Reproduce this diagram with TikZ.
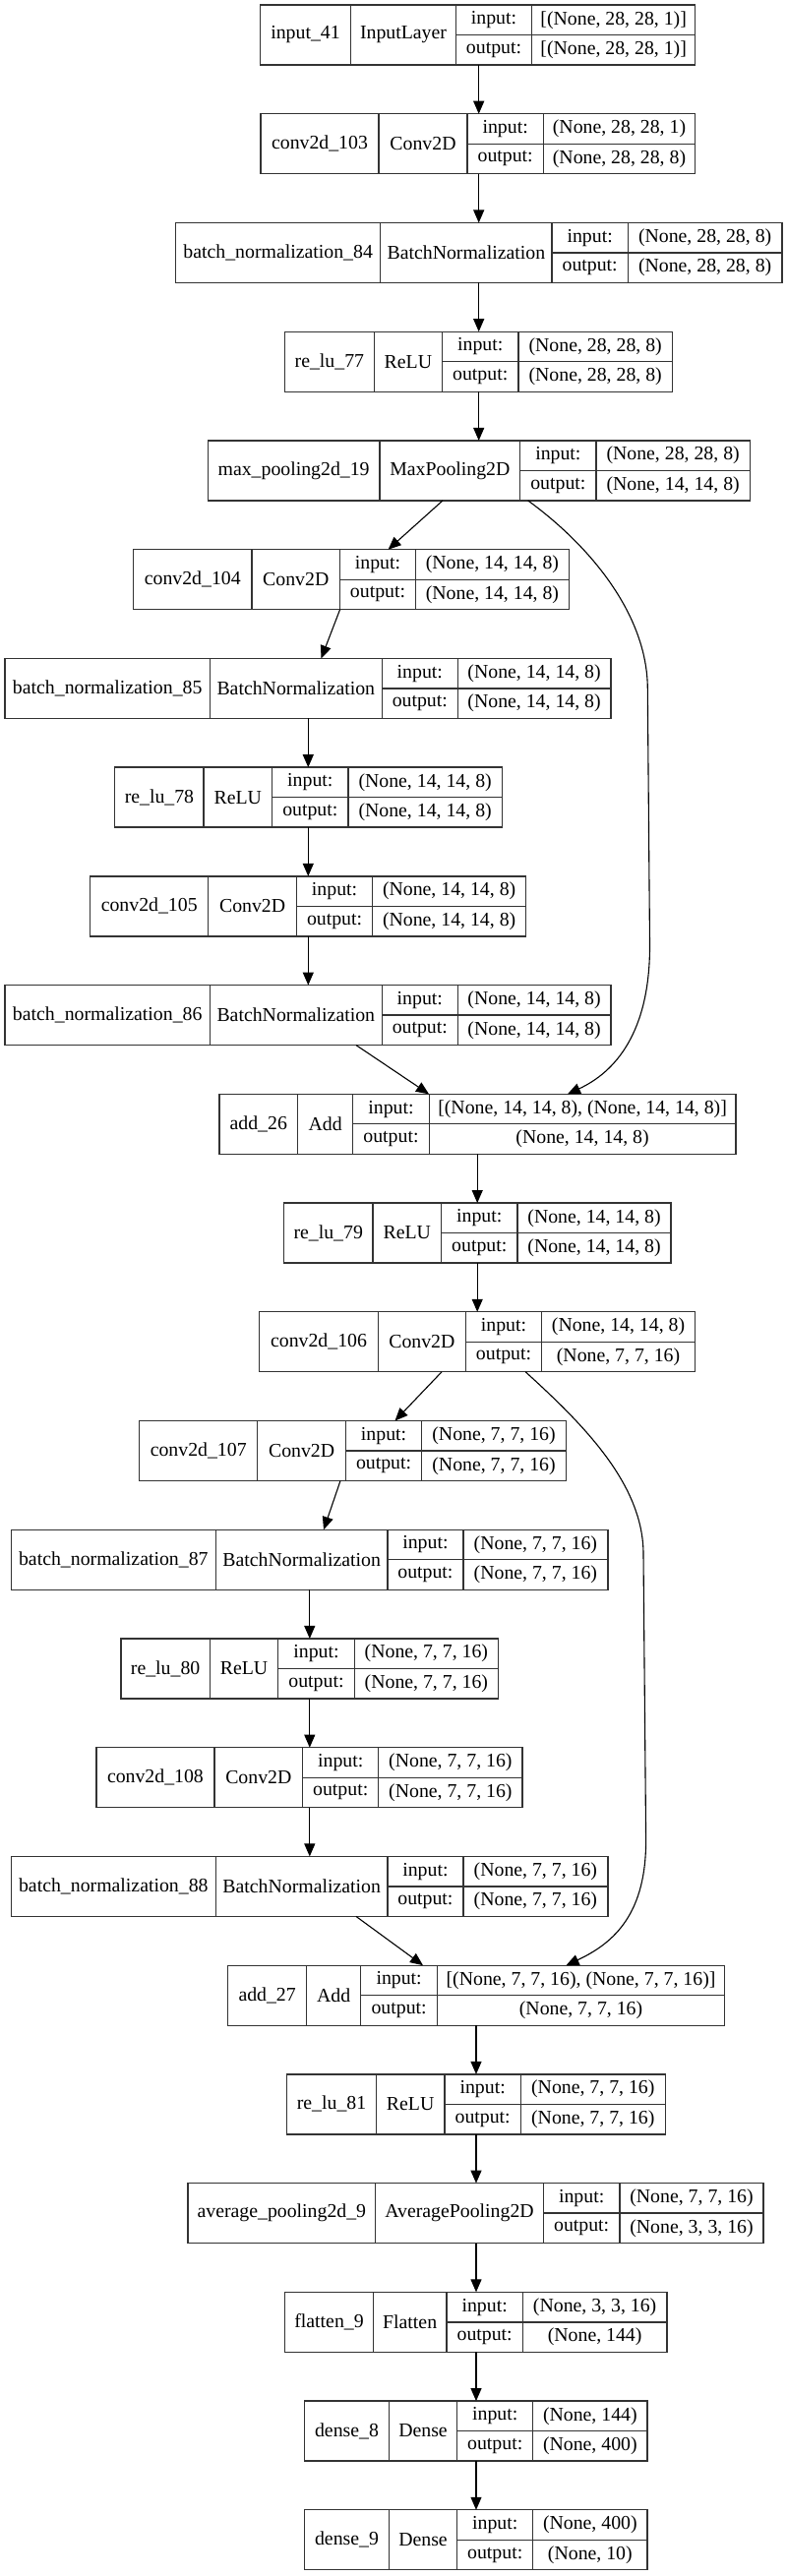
\documentclass[tikz,border=0pt]{standalone}
\usepackage{fontspec}
\setmainfont{Liberation Serif}
\usetikzlibrary{arrows.meta,calc}
\tikzset{
  lbox/.style={draw=black!80, line width=1.3pt, inner sep=0pt, outer sep=0pt, anchor=north west, minimum height=61pt},
  divline/.style={draw=black!80, line width=1.3pt},
  txt/.style={inner sep=0pt, font=\fontsize{19.8}{22}\selectfont, text=black},
  arr/.style={draw=black, line width=1.1pt, -{Triangle[length=13pt,width=11pt]}},
}
\newcommand\layerbox[9]{%
  \pgfmathsetmacro\ytop{5+110.73*#2}%
  \pgfmathsetmacro\ybot{\ytop+61}%
  \pgfmathsetmacro\ymid{\ytop+30.5}%
  \pgfmathsetmacro\yup{\ytop+15.25}%
  \pgfmathsetmacro\ylo{\ytop+45.75}%
  \node[lbox, minimum width={(#7-#3)*1pt}] (#1) at (#3,\ytop) {};
  \draw[divline] (#4,\ytop) -- (#4,\ybot);
  \draw[divline] (#5,\ytop) -- (#5,\ybot);
  \draw[divline] (#6,\ytop) -- (#6,\ybot);
  \draw[divline] (#5,\ymid) -- (#7,\ymid);
  \coordinate (#1-a) at ({(#3+#4)/2},\ymid);
  \coordinate (#1-b) at ({(#4+#5)/2},\ymid);
  \coordinate (#1-ik) at ({(#5+#6)/2},\yup);
  \coordinate (#1-iv) at ({(#6+#7)/2},\yup);
  \coordinate (#1-ok) at ({(#5+#6)/2},\ylo);
  \coordinate (#1-ov) at ({(#6+#7)/2},\ylo);
  \coordinate (#1-in) at (#8,\ytop);
  \coordinate (#1-out) at (#9,\ybot);
}
\newcommand\layertext[5]{%
  \node[txt] (#1-t1) at (#1-a) {#2};
  \node[txt] (#1-t2) at (#1-b) {#3};
  \node[txt] (#1-t3) at (#1-ik) {input:};
  \node[txt] (#1-t4) at (#1-iv) {#4};
  \node[txt] (#1-t5) at (#1-ok) {output:};
  \node[txt] (#1-t6) at (#1-ov) {#5};
}
\begin{document}
\begin{tikzpicture}[x=1pt,y=-1pt]
\useasboundingbox (0,0) rectangle (800,2619);
\fill[white] (0,0) rectangle (800,2619);

\layerbox{in41}{0}{264.3}{356.7}{463.3}{540.7}{706.7}{486.7}{486.7}
\layertext{in41}{input\_41}{InputLayer}{[(None, 28, 28, 1)]}{[(None, 28, 28, 1)]}
\layerbox{c103}{1}{265}{385}{475}{552.3}{706.7}{486.7}{486.7}
\layertext{c103}{conv2d\_103}{Conv2D}{(None, 28, 28, 1)}{(None, 28, 28, 8)}
\layerbox{bn84}{2}{178.6}{386.7}{561}{638.3}{795}{486.7}{486.7}
\layertext{bn84}{batch\_normalization\_84}{BatchNormalization}{(None, 28, 28, 8)}{(None, 28, 28, 8)}
\layerbox{re77}{3}{289.3}{380.4}{449.3}{527.1}{683.3}{486.7}{486.7}
\layertext{re77}{re\_lu\_77}{ReLU}{(None, 28, 28, 8)}{(None, 28, 28, 8)}
\layerbox{mp19}{4}{211.2}{386}{528.7}{606}{762.3}{486.7}{450}
\layertext{mp19}{max\_pooling2d\_19}{MaxPooling2D}{(None, 28, 28, 8)}{(None, 14, 14, 8)}
\layerbox{c104}{5}{135.7}{255.9}{345.6}{422.4}{578.5}{394.6}{345.6}
\layertext{c104}{conv2d\_104}{Conv2D}{(None, 14, 14, 8)}{(None, 14, 14, 8)}
\layerbox{bn85}{6}{5.1}{213.3}{388.3}{465.3}{620.9}{326.5}{313.3}
\layertext{bn85}{batch\_normalization\_85}{BatchNormalization}{(None, 14, 14, 8)}{(None, 14, 14, 8)}
\layerbox{re78}{7}{116.8}{207.1}{276.5}{354.1}{510.2}{313.3}{313.3}
\layertext{re78}{re\_lu\_78}{ReLU}{(None, 14, 14, 8)}{(None, 14, 14, 8)}
\layerbox{c105}{8}{91.8}{211.7}{301.5}{378.6}{534.7}{313.3}{313.3}
\layertext{c105}{conv2d\_105}{Conv2D}{(None, 14, 14, 8)}{(None, 14, 14, 8)}
\layerbox{bn86}{9}{5.1}{213.3}{388.3}{465.3}{620.9}{313.3}{362}
\layertext{bn86}{batch\_normalization\_86}{BatchNormalization}{(None, 14, 14, 8)}{(None, 14, 14, 8)}
\layerbox{add26}{10}{223}{302.6}{358.7}{436.2}{748}{436}{485.2}
\layertext{add26}{add\_26}{Add}{[(None, 14, 14, 8), (None, 14, 14, 8)]}{(None, 14, 14, 8)}
\layerbox{re79}{11}{288.3}{379.1}{448.5}{526}{682.1}{485.2}{485.2}
\layertext{re79}{re\_lu\_79}{ReLU}{(None, 14, 14, 8)}{(None, 14, 14, 8)}
\layerbox{c106}{12}{263.8}{384.2}{473.5}{550.5}{706.6}{485.2}{449}
\layertext{c106}{conv2d\_106}{Conv2D}{(None, 14, 14, 8)}{(None, 7, 7, 16)}
\layerbox{c107}{13}{141.8}{261.7}{351.5}{428.6}{575.5}{401.5}{346}
\layertext{c107}{conv2d\_107}{Conv2D}{(None, 7, 7, 16)}{(None, 7, 7, 16)}
\layerbox{bn87}{14}{11.2}{219.4}{393.9}{470.9}{617.9}{329}{314.8}
\layertext{bn87}{batch\_normalization\_87}{BatchNormalization}{(None, 7, 7, 16)}{(None, 7, 7, 16)}
\layerbox{re80}{15}{123}{213.3}{282.7}{360.2}{506.6}{314.8}{314.8}
\layertext{re80}{re\_lu\_80}{ReLU}{(None, 7, 7, 16)}{(None, 7, 7, 16)}
\layerbox{c108}{16}{98}{217.9}{307.7}{384.7}{531.1}{314.8}{314.8}
\layertext{c108}{conv2d\_108}{Conv2D}{(None, 7, 7, 16)}{(None, 7, 7, 16)}
\layerbox{bn88}{17}{11.2}{219.4}{393.9}{470.9}{617.9}{314.8}{362}
\layertext{bn88}{batch\_normalization\_88}{BatchNormalization}{(None, 7, 7, 16)}{(None, 7, 7, 16)}
\layerbox{add27}{18}{231.6}{311.7}{366.8}{444.4}{736.7}{430}{484}
\layertext{add27}{add\_27}{Add}{[(None, 7, 7, 16), (None, 7, 7, 16)]}{(None, 7, 7, 16)}
\layerbox{re81}{19}{291.7}{382.3}{452}{529.3}{676.3}{484}{484}
\layertext{re81}{re\_lu\_81}{ReLU}{(None, 7, 7, 16)}{(None, 7, 7, 16)}
\layerbox{ap9}{20}{191}{381.7}{552.3}{630}{776}{484}{484}
\layertext{ap9}{average\_pooling2d\_9}{AveragePooling2D}{(None, 7, 7, 16)}{(None, 3, 3, 16)}
\layerbox{fl9}{21}{289.7}{379.3}{454}{531.3}{678}{484}{484}
\layertext{fl9}{flatten\_9}{Flatten}{(None, 3, 3, 16)}{(None, 144)}
\layerbox{d8}{22}{309.7}{395.3}{464.7}{541.7}{658}{484}{484}
\layertext{d8}{dense\_8}{Dense}{(None, 144)}{(None, 400)}
\layerbox{d9}{23}{309.7}{395.3}{464.7}{541.7}{658}{484}{484}
\layertext{d9}{dense\_9}{Dense}{(None, 400)}{(None, 10)}

\coordinate (mp19-out2) at (536.7,508.92);
\coordinate (add26-in2) at (577,1112.3);
\coordinate (c106-out2) at (534.2,1394.76);
\coordinate (add27-in2) at (575.5,1998.14);

\draw[arr] (in41-out) -- (c103-in);
\draw[arr] (c103-out) -- (bn84-in);
\draw[arr] (bn84-out) -- (re77-in);
\draw[arr] (re77-out) -- (mp19-in);
\draw[arr] (mp19-out) -- (c104-in);
\draw[arr] (c104-out) -- (bn85-in);
\draw[arr] (bn85-out) -- (re78-in);
\draw[arr] (re78-out) -- (c105-in);
\draw[arr] (c105-out) -- (bn86-in);
\draw[arr] (bn86-out) -- (add26-in);
\draw[arr] (mp19-out2) .. controls (600,555) and (658,625) .. (658.3,700) -- (660.5,960) .. controls (661,1050) and (625,1090) .. (add26-in2);
\draw[arr] (add26-out) -- (re79-in);
\draw[arr] (re79-out) -- (c106-in);
\draw[arr] (c106-out) -- (c107-in);
\draw[arr] (c107-out) -- (bn87-in);
\draw[arr] (bn87-out) -- (re80-in);
\draw[arr] (re80-out) -- (c108-in);
\draw[arr] (c108-out) -- (bn88-in);
\draw[arr] (bn88-out) -- (add27-in);
\draw[arr] (c106-out2) .. controls (595,1450) and (654,1510) .. (654,1580) -- (656.6,1870) .. controls (657,1945) and (625,1975) .. (add27-in2);
\draw[arr] (add27-out) -- (re81-in);
\draw[arr] (re81-out) -- (ap9-in);
\draw[arr] (ap9-out) -- (fl9-in);
\draw[arr] (fl9-out) -- (d8-in);
\draw[arr] (d8-out) -- (d9-in);
\end{tikzpicture}
\end{document}
